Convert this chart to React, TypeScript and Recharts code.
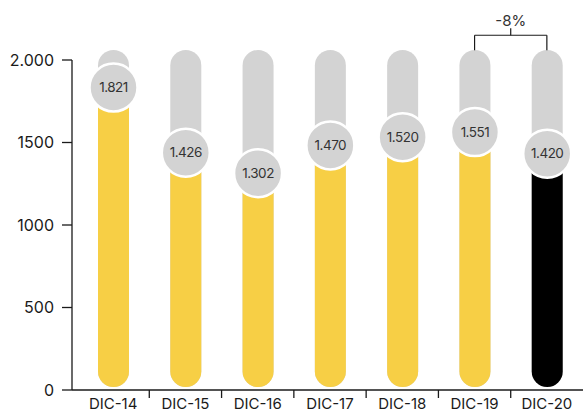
import { BarChart, Bar, XAxis, YAxis, ReferenceLine } from 'recharts';

const categories = ['DIC-14', 'DIC-15', 'DIC-16', 'DIC-17', 'DIC-18', 'DIC-19', 'DIC-20'];
const values = [1821, 1426, 1302, 1470, 1520, 1551, 1420];
const yTicks = [0, 500, 1000, 1500, 2000];
const yTickLabels = ['0', '500', '1000', '1500', '2.000'];

const data = categories.map((name, i) => ({ name, value: values[i] }));

const YELLOW = '#f7cf45';
const GRAY = '#d3d3d3';
const INK = '#1a1a1a';
const FONT = 'Inter, "Noto Sans", sans-serif';

const W = 583;
const H = 412;
const Y_AXIS_W = 72;
const PAD_LEFT = 5;
const HALF_BAND = (W - Y_AXIS_W - PAD_LEFT) / categories.length / 2;

const fmt = (v: number) => v.toLocaleString('de-DE');

const pctChange = Math.round(
    ((values[values.length - 1] - values[values.length - 2]) / values[values.length - 2]) * 100
);

function GrayBg(props: any) {
    const { x, y, width, height } = props;
    const r = width / 2;
    return <rect x={x} y={y - 10} width={width} height={height + 7} rx={r} ry={r} fill={GRAY} />;
}

function ValueBar(props: any) {
    const { x, y, width, height, index } = props;
    const r = width / 2;
    const fill = index === categories.length - 1 ? '#000' : YELLOW;
    const cx = x + width / 2;
    return (
        <g>
            <rect x={x} y={y} width={width} height={Math.max(height - 3, 0)} rx={r} ry={r} fill={fill} />
            <circle cx={cx} cy={y - 2} r={24} fill={GRAY} stroke="#fff" strokeWidth={2.5} />
            <text
                x={cx}
                y={y - 2}
                dy="0.35em"
                textAnchor="middle"
                fontSize={13.5}
                fill="#333"
                fontFamily={FONT}
                letterSpacing={-0.5}
            >
                {fmt(values[index])}
            </text>
        </g>
    );
}

function XTick(props: any) {
    const { x, y, payload } = props;
    const half = payload && payload.offset ? payload.offset : HALF_BAND;
    const isLast = payload.index === categories.length - 1;
    return (
        <g>
            {!isLast && <line x1={x + half} x2={x + half} y1={y} y2={y + 8} stroke={INK} strokeWidth={1.3} />}
            <text x={x} y={y + 19} textAnchor="middle" fontSize={15} fill={INK} fontFamily={FONT}>
                {payload.value}
            </text>
        </g>
    );
}

function Bracket(props: any) {
    const { x1, y1, x2 } = props;
    const mid = (x1 + x2) / 2;
    return (
        <g stroke={INK} strokeWidth={1.2} fill="none">
            <line x1={x1} x2={x2} y1={y1} y2={y1} />
            <line x1={x1} x2={x1} y1={y1} y2={y1 + 15} />
            <line x1={x2} x2={x2} y1={y1} y2={y1 + 15} />
            <line x1={mid} x2={mid} y1={y1 - 7} y2={y1} />
            <text
                x={mid}
                y={y1 - 9}
                textAnchor="middle"
                fontSize={15}
                fill="#333"
                stroke="none"
                fontFamily={FONT}
            >
                {`${pctChange}%`}
            </text>
        </g>
    );
}

export default function App() {
    return (
        <div style={{ position: 'absolute', left: 0, top: 0, width: W, height: H, background: '#fff' }}>
            <BarChart width={W} height={H} data={data} margin={{ top: 60, right: 0, left: 0, bottom: 0 }}>
                <XAxis
                    dataKey="name"
                    height={22}
                    interval={0}
                    padding={{ left: PAD_LEFT, right: 0 }}
                    tickLine={false}
                    tickSize={0}
                    tickMargin={0}
                    axisLine={{ stroke: INK, strokeWidth: 1.3 }}
                    tick={<XTick />}
                />
                <YAxis
                    width={Y_AXIS_W}
                    domain={[0, 2000]}
                    ticks={yTicks}
                    interval={0}
                    tickSize={10}
                    tickMargin={8}
                    axisLine={{ stroke: INK, strokeWidth: 1.3 }}
                    tickLine={{ stroke: INK, strokeWidth: 1.3 }}
                    tick={{ fill: INK, fontSize: 16, fontFamily: FONT }}
                    tickFormatter={(v: number) => yTickLabels[yTicks.indexOf(v)]}
                />
                <Bar
                    dataKey="value"
                    barSize={31}
                    background={<GrayBg />}
                    shape={<ValueBar />}
                    isAnimationActive={false}
                />
                <ReferenceLine
                    segment={[
                        { x: 'DIC-19', y: 2150 },
                        { x: 'DIC-20', y: 2150 },
                    ]}
                    ifOverflow="visible"
                    shape={Bracket}
                />
            </BarChart>
        </div>
    );
}
